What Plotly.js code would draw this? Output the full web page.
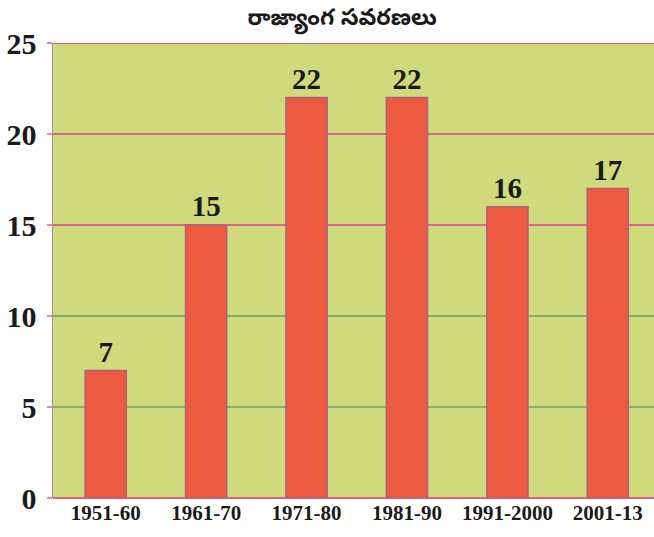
<!DOCTYPE html>
<html>
<head>
<meta charset="utf-8">
<script src="https://cdn.plot.ly/plotly-3.0.1.min.js"></script>
<style>html,body{margin:0;padding:0;background:#fff;}#chart{width:654px;height:537px;}</style>
</head>
<body>
<div id="chart"></div>
<script>
const categories = ["1951-60", "1961-70", "1971-80", "1981-90", "1991-2000", "2001-13"];
const amendments = [7, 15, 22, 22, 16, 17];
const yTicks = [0, 5, 10, 15, 20, 25];
const pinkGrid = [15, 20, 25];
const greenGrid = [5, 10];
const titleText = "రాజ్యాంగ సవరణలు";

const serif = "Liberation Serif, Times New Roman, serif";

const shapes = [];
pinkGrid.forEach(v => shapes.push({type: "line", xref: "paper", x0: 0, x1: 1, yref: "y", y0: v, y1: v,
  line: {color: "#d8658c", width: 2}, layer: "below"}));
greenGrid.forEach(v => shapes.push({type: "line", xref: "paper", x0: 0, x1: 1, yref: "y", y0: v, y1: v,
  line: {color: "#86ae72", width: 2}, layer: "below"}));

const trace = {
  type: "bar",
  x: categories,
  y: amendments,
  width: 0.41,
  marker: {color: "#ed5a3f", line: {color: "#b0607f", width: 1.5}},
  text: amendments.map(String),
  textposition: "outside",
  cliponaxis: false,
  textfont: {family: serif, size: 29, color: "#1a1a1a", weight: "bold"},
  hoverinfo: "none"
};

const layout = {
  width: 654, height: 537,
  margin: {l: 53, r: 0, t: 43, b: 39},
  paper_bgcolor: "#ffffff",
  plot_bgcolor: "#cfda7c",
  showlegend: false,
  title: {
    text: titleText,
    font: {family: "Noto Sans Telugu, Noto Sans, sans-serif", size: 23, color: "#1a1a1a", weight: "bold"},
    xref: "paper", x: 0.481, xanchor: "center",
    yref: "container", y: 0.968, yanchor: "middle"
  },
  xaxis: {
    type: "category",
    range: [-0.525, 5.46],
    showgrid: false,
    showline: false,
    ticks: "",
    tickfont: {family: serif, size: 21, color: "#1a1a1a", weight: "bold"},
    fixedrange: true
  },
  yaxis: {
    range: [0, 25],
    tickvals: yTicks,
    ticktext: yTicks.map(String),
    showgrid: false,
    zeroline: true,
    zerolinecolor: "#e0607a",
    zerolinewidth: 2,
    showline: true,
    linecolor: "#b08aa0",
    linewidth: 1.5,
    ticks: "outside",
    ticklen: 5,
    tickcolor: "#e08aa0",
    tickwidth: 2,
    ticklabelstandoff: 4,
    tickfont: {family: serif, size: 30, color: "#1a1a1a", weight: "bold"},
    fixedrange: true
  },
  shapes: shapes
};

Plotly.newPlot("chart", [trace], layout, {displayModeBar: false, staticPlot: true});
</script>
</body>
</html>
